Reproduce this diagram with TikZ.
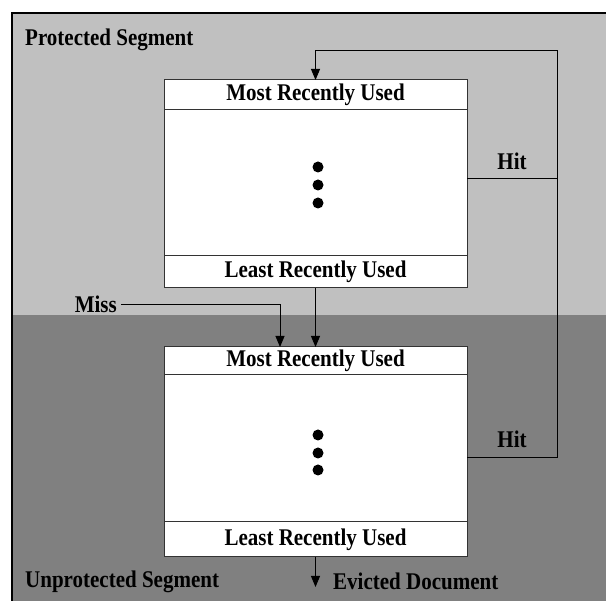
\documentclass[tikz,border=0pt]{standalone}
\usepackage{fontspec}
\setmainfont{Liberation Serif}
\usetikzlibrary{arrows.meta}
\definecolor{lightseg}{HTML}{C0C0C0}
\definecolor{darkseg}{HTML}{808080}
\newcommand\tallt[1]{\scalebox{1}[1.14]{#1}}
\begin{document}
\begin{tikzpicture}[x=1pt,y=-1pt,
  every node/.style={font=\fontsize{21}{24}\selectfont\bfseries, inner sep=0pt},
  cell/.style={draw=black!80, line width=1pt, fill=white, minimum width=303pt, anchor=north, outer sep=0pt},
  arr/.style={line width=0.9pt, -{Triangle[width=9pt,length=11pt]}},
  conn/.style={line width=0.9pt},
  dot/.style={fill=black, circle, minimum size=11pt}]
\useasboundingbox (0,0) rectangle (606,601);
\fill[lightseg] (12,13) rectangle (606,315);
\fill[darkseg] (12,315) rectangle (606,601);
\draw[line width=2.5pt] (12,601) -- (12,13) -- (606,13);

% labels of segments
\node[anchor=west] (prot) at (25,40) {\tallt{Protected Segment}};
\node[anchor=west] (unprot) at (25,582) {\tallt{Unprotected Segment}};

% top box
\node[cell, minimum height=30pt] (tmru) at (315.5,80) {\tallt{Most Recently Used}};
\node[cell, minimum height=146pt] (tbody) at (315.5,110) {};
\node[cell, minimum height=32pt] (tlru) at (315.5,256) {\tallt{Least Recently Used}};
\node[dot] (td1) at (318,167) {};
\node[dot] (td2) at (318,185) {};
\node[dot] (td3) at (318,203) {};

% bottom box
\node[cell, minimum height=28pt] (bmru) at (315.5,347) {\tallt{Most Recently Used}};
\node[cell, minimum height=147pt] (bbody) at (315.5,375) {};
\node[cell, minimum height=35pt] (blru) at (315.5,522) {\tallt{Least Recently Used}};
\node[dot] (bd1) at (318,435) {};
\node[dot] (bd2) at (318,453) {};
\node[dot] (bd3) at (318,470) {};

% hit loop
\coordinate (h1) at (467,178);
\coordinate (h2) at (467,457);
\coordinate (r1) at (557,178);
\coordinate (r2) at (557,457);
\coordinate (rt) at (557,50);
\draw[conn] (h1) -- (r1);
\draw[arr] (h2) -- (r2) -- (rt) -| (tmru.north);
\node[anchor=south] (hit1) at (512,170) {\tallt{Hit}};
\node[anchor=south] (hit2) at (512,448) {\tallt{Hit}};

% miss
\node[anchor=east] (miss) at (117,304) {\tallt{Miss}};
\coordinate (missin) at (280,347);
\draw[arr] ([xshift=4pt]miss.east) -| (missin);

% demotion
\draw[arr] (tlru.south) -- (bmru.north);

% eviction
\coordinate (ev) at (315.5,587);
\draw[arr] (blru.south) -- (ev);
\node[anchor=west] (evicted) at (333,581) {\tallt{Evicted Document}};
\end{tikzpicture}
\end{document}
